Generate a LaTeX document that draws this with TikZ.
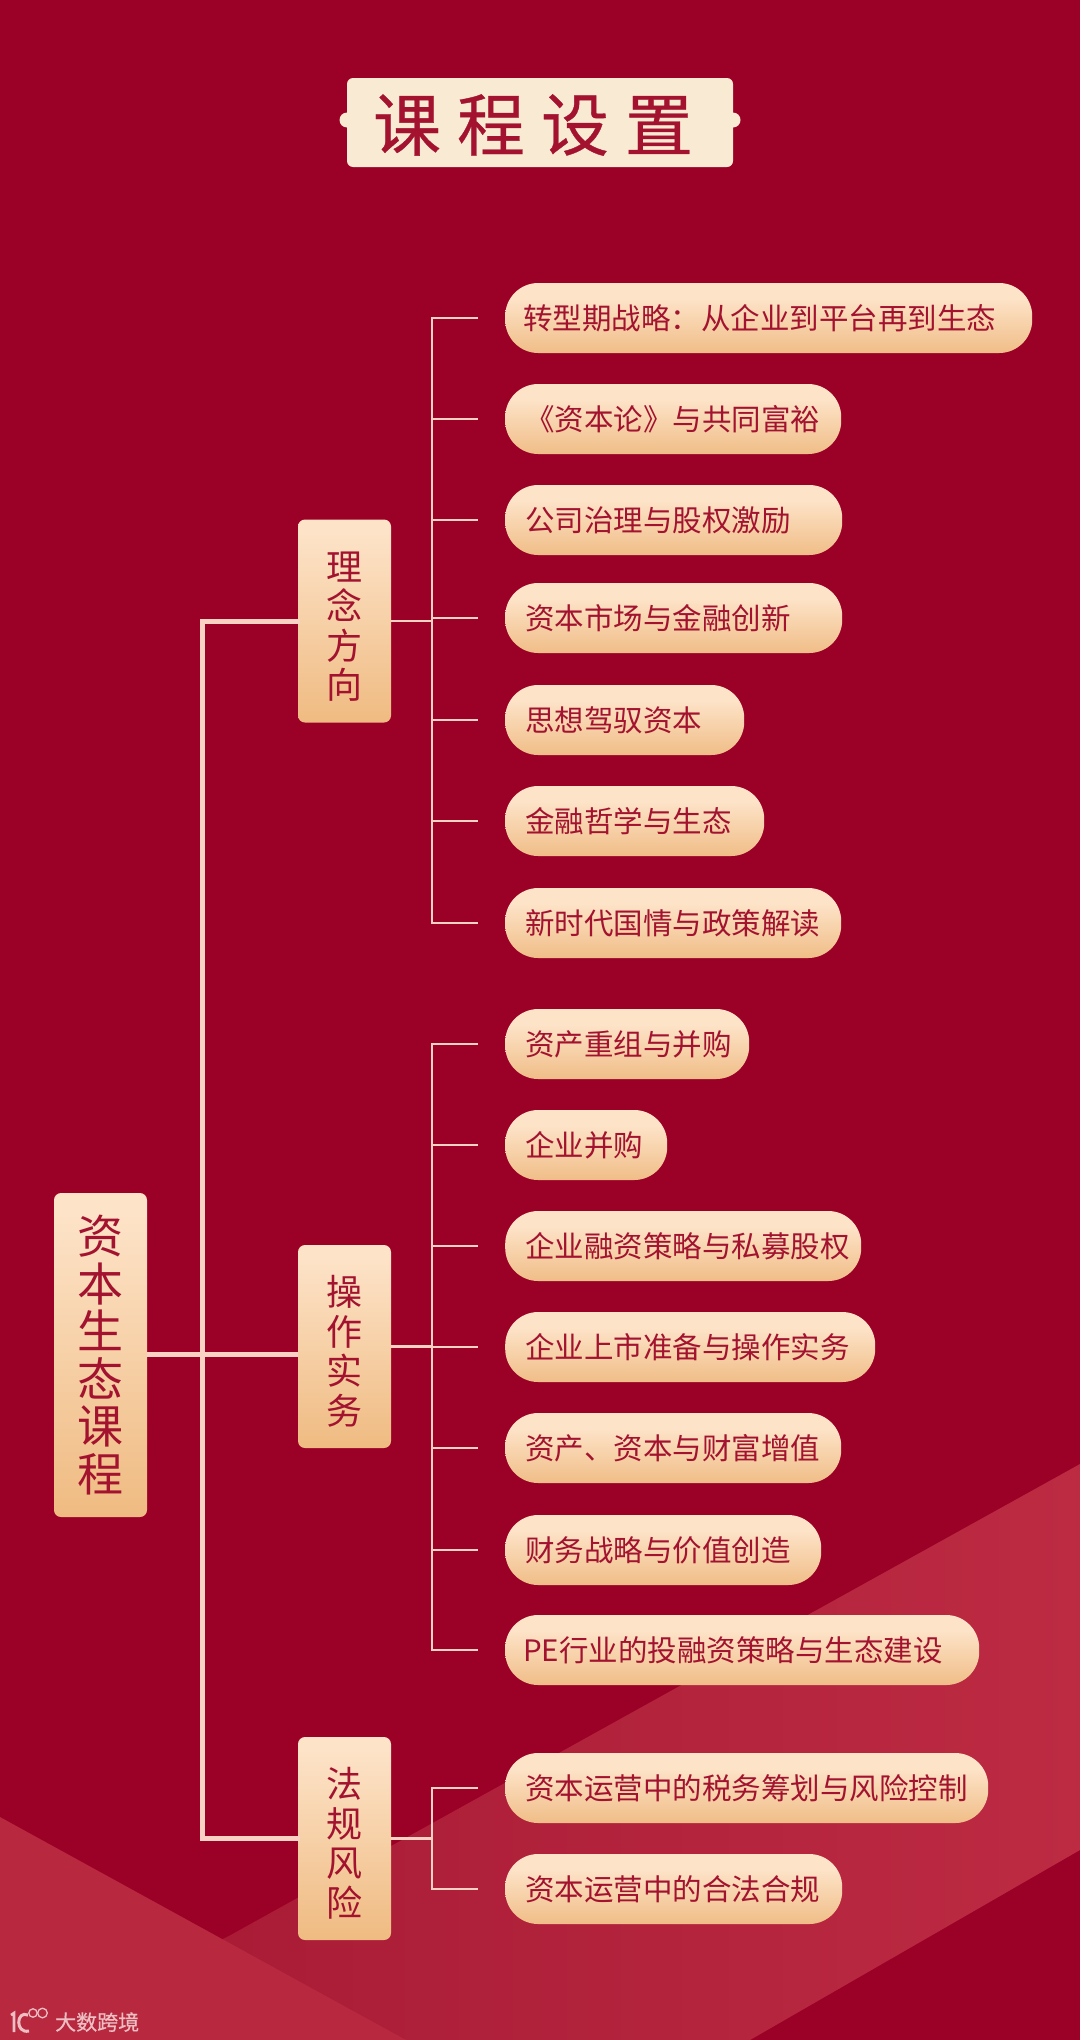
\documentclass[tikz,border=0pt]{standalone}
\usepackage{fontspec}
\setmainfont{Noto Sans CJK SC}
\newfontfamily\semifont[FakeBold=0.5]{Noto Sans CJK SC}
\usetikzlibrary{calc}
\definecolor{bgred}{HTML}{9B0026}
\definecolor{inkred}{HTML}{A3132F}
\definecolor{linepale}{HTML}{F9D2C4}
\definecolor{plate}{HTML}{F9EBD3}
\definecolor{bandL}{HTML}{A51733}
\definecolor{bandR}{HTML}{BC2B42}
\definecolor{triL}{HTML}{B8283F}
\definecolor{wm}{HTML}{EDBFC3}
\definecolor{gdark}{HTML}{E9A962}
\definecolor{glight}{HTML}{FDE3C8}
\definecolor{gtop}{HTML}{EAB27C}
\definecolor{pdark}{HTML}{E9A964}
\pgfdeclareverticalshading{goldshade}{100bp}{
  color(0bp)=(gdark); color(4bp)=(gdark); color(72bp)=(glight); color(82bp)=(glight); color(93bp)=(gtop); color(100bp)=(gtop)}
\pgfdeclareverticalshading{pillshade}{100bp}{
  color(0bp)=(pdark); color(4bp)=(pdark); color(64bp)=(glight); color(78bp)=(glight); color(95bp)=(gtop); color(100bp)=(gtop)}
\tikzset{
  x=1pt,y=-1pt,
  pill/.style={anchor=west,rounded corners=33pt,shading=pillshade,minimum height=70pt,inner sep=0pt,text=inkred,font=\fontsize{29.5}{32}\selectfont},
  catbox/.style={rounded corners=7pt,shading=goldshade,minimum width=93pt,minimum height=203pt,inner sep=0pt,text=inkred,align=center,font=\fontsize{36}{39.6}\selectfont},
  rootbox/.style={rounded corners=7pt,shading=goldshade,minimum width=93pt,minimum height=324pt,inner sep=0pt,text=inkred,align=center,font=\fontsize{46}{47.5}\selectfont},
  thick line/.style={draw=linepale,line width=5pt},
  thin line/.style={draw=linepale,line width=2.4pt},
  titlechar/.style={inner sep=0pt,text=inkred,font=\semifont\fontsize{68}{72}\selectfont},
}
\newcommand{\pillnode}[4]{%
  \node[pill,minimum width=#3pt-505pt] (#1) at (505,#2) {\hbox to \dimexpr#3pt-505pt\relax{\hskip20pt #4\hss}};
}
\newcommand{\boxtop}{\rule{0pt}{40pt}}
\begin{document}
\begin{tikzpicture}
\useasboundingbox (0,0) rectangle (1080,2040);
\fill[bgred] (0,0) rectangle (1080,2040);
% background bands
\shade[left color=bandL,right color=bandR] (1080,1464) -- (227,1937) -- (0,2040) -- (750,2040) -- (1080,1850) -- cycle;
\fill[triL] (0,1817) -- (406,2040) -- (0,2040) -- cycle;
% title plate
\fill[plate,rounded corners=6pt] (347,78) rectangle (733,167);
\fill[plate] (347,120) circle (7.5);
\fill[plate] (733,120) circle (7.5);
\node[titlechar] (t1) at (407,125) {课};
\node[titlechar] (t2) at (491,125) {程};
\node[titlechar] (t3) at (575,125) {设};
\node[titlechar] (t4) at (659,125) {置};
% nodes
\node[rootbox] (root) at (100.5,1355) {资\\本\\生\\态\\课\\程};
\node[catbox] (c1) at (344.5,621) {\boxtop 理\\念\\方\\向};
\node[catbox] (c2) at (344.5,1346.5) {\boxtop 操\\作\\实\\务};
\node[catbox] (c3) at (344.5,1838.5) {\boxtop 法\\规\\风\\险};
\pillnode{a1}{318}{1032}{\hskip-2pt 转型期战略：\hskip1pt 从企业到平台再到生态}
\pillnode{a2}{419}{841}{《资本论》与共同富裕}
\pillnode{a3}{520}{842}{公司治理与股权激励}
\pillnode{a4}{618}{842}{资本市场与金融创新}
\pillnode{a5}{720}{744}{思想驾驭资本}
\pillnode{a6}{821}{764}{金融哲学与生态}
\pillnode{a7}{923}{841}{新时代国情与政策解读}
\pillnode{b1}{1044}{749}{资产重组与并购}
\pillnode{b2}{1145}{667}{企业并购}
\pillnode{b3}{1246}{861}{企业融资策略与私募股权}
\pillnode{b4}{1347}{875}{企业上市准备与操作实务}
\pillnode{b5}{1448}{841}{资产、资本与财富增值}
\pillnode{b6}{1550}{821}{财务战略与价值创造}
\pillnode{b7}{1650}{979}{\hskip-2pt PE行业的投融资策略与生态建设}
\pillnode{d1}{1788}{988}{资本运营中的税务筹划与风险控制}
\pillnode{d2}{1889}{842}{资本运营中的合法合规}
% connectors
\coordinate (sp) at (202,1354);
\coordinate (t1c) at (202,621);
\coordinate (t3c) at (202,1838.5);
\draw[thick line] (root.east |- sp) -- (c2.west |- sp);
\draw[thick line,line cap=rect] (c1.west) -- (t1c) -- (t3c) -- (c3.west);
\foreach \c/\ta/\tb in {c1/a1/a7,c2/b1/b7,c3/d1/d2}{
  \draw[thin line] (\c.east) -- (432,0 |- \c.east);
  \draw[thin line] ($(\ta.west)+(-27,0)$) -- ($(\ta.west)+(-73,0)$) -- ($(\tb.west)+(-73,0)$) -- ($(\tb.west)+(-27,0)$);
}
\foreach \p in {a2,a3,a4,a5,a6,b2,b3,b4,b5,b6}{
  \draw[thin line] ($(\p.west)+(-73,0)$) -- ($(\p.west)+(-27,0)$);
}
% watermark
\draw[wm,line width=2.6pt] (11,2015) -- (14,2013) -- (14,2032);
\draw[wm,line width=3pt] (28,2015) .. controls (16,2010) and (15,2034) .. (29,2031);
\draw[wm,line width=1.3pt] (33,2013) circle (4.2);
\draw[wm,line width=1.3pt] (42.5,2013) circle (4.8);
\node[anchor=west,inner sep=0pt,text=wm,font=\semifont\fontsize{21}{24}\selectfont] (wmk) at (55,2022) {大数跨境};
\end{tikzpicture}
\end{document}
